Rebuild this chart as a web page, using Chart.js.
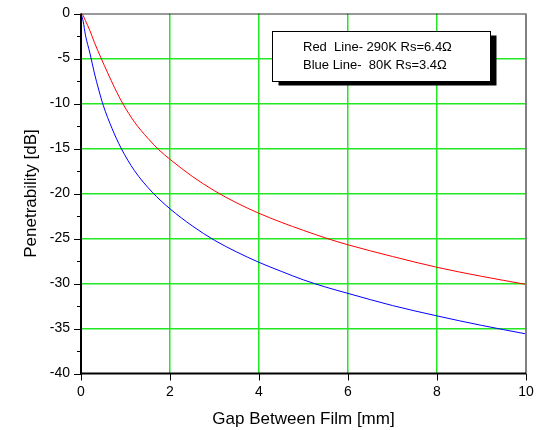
<!DOCTYPE html>
<html><head><meta charset="utf-8">
<script src="https://cdn.jsdelivr.net/npm/chart.js@4/dist/chart.umd.min.js"></script>
<style>html,body{margin:0;padding:0;background:#fff;} #wrap{width:537px;height:430px;position:relative;} canvas{display:block;}</style>
</head><body><div id="wrap"><canvas id="c" width="537" height="430" style="width:537px;height:430px"></canvas></div>
<script>
// ---- data ----
const redX  = [0, 0.025, 0.05, 0.1, 0.2, 0.3, 0.45, 0.6, 0.75, 0.95, 1.2, 1.5, 1.75, 2, 2.5, 3, 3.5, 4, 4.5, 5, 5.5, 6, 7, 8, 9, 10];
const redY  = [0, -0.07, -0.25, -0.8, -1.9, -3.2, -4.95, -6.6, -8.2, -10.1, -12.05, -13.85, -15.15, -16.2, -18.1, -19.7, -21.05, -22.2, -23.2, -24.1, -24.95, -25.7, -27.0, -28.2, -29.2, -30.1];
const blueX = [0, 0.05, 0.1, 0.2, 0.3, 0.4, 0.5, 0.7, 0.9, 1.2, 1.6, 2, 2.5, 3, 3.5, 4, 4.5, 5, 5.5, 6, 7, 8, 9, 10];
const blueY = [0, -0.9, -2.4, -4.4, -6.6, -8.5, -10.2, -12.8, -14.95, -17.45, -19.85, -21.7, -23.6, -25.2, -26.5, -27.65, -28.65, -29.6, -30.4, -31.1, -32.45, -33.6, -34.65, -35.6];
const legendLines = ['Red  Line- 290K Rs=6.4\u03A9', 'Blue Line-  80K Rs=3.4\u03A9'];
const xTitle = 'Gap Between Film [mm]';
const yTitle = 'Penetrability [dB]';

const FONT = "'Liberation Sans', Arial, sans-serif";
const toPts = (xs, ys) => xs.map((x, i) => ({x, y: ys[i]}));
const GRID = '#22e822';

const frame = {
  id: 'frame',
  afterDraw(chart) {
    const {ctx, chartArea: a, scales: {x, y}} = chart;
    ctx.save();
    // tick marks
    ctx.strokeStyle = '#000'; ctx.lineWidth = 1;
    ctx.beginPath();
    for (let v = -40; v <= 0; v += 2.5) {
      const py = Math.round(y.getPixelForValue(v)) + 0.5;
      const len = (v % 5 === 0) ? 7 : 4;
      ctx.moveTo(a.left - len, py); ctx.lineTo(a.left, py);
    }
    for (let v = 0; v <= 10; v += 2) {
      const px = Math.round(x.getPixelForValue(v)) + 0.5;
      ctx.moveTo(px, a.bottom); ctx.lineTo(px, a.bottom + 7);
    }
    ctx.stroke();
    // frame
    ctx.strokeStyle = '#333'; ctx.lineWidth = 1;
    ctx.beginPath(); ctx.moveTo(a.left, a.top + 0.5); ctx.lineTo(a.right, a.top + 0.5); ctx.stroke();
    ctx.strokeStyle = '#808080'; ctx.lineWidth = 2;
    ctx.beginPath(); ctx.moveTo(a.right, a.top); ctx.lineTo(a.right, a.bottom); ctx.stroke();
    ctx.strokeStyle = '#000'; ctx.lineWidth = 2;
    ctx.beginPath(); ctx.moveTo(a.left, a.top); ctx.lineTo(a.left, a.bottom); ctx.lineTo(a.right, a.bottom); ctx.stroke();
    // legend box with shadow
    const bx = 272.5, by = 31.5, bw = 218, bh = 50;
    ctx.fillStyle = '#000';
    ctx.fillRect(bx + 6, by + 4, bw, bh);
    ctx.fillStyle = '#fff';
    ctx.fillRect(bx, by, bw, bh);
    ctx.strokeStyle = '#000'; ctx.lineWidth = 1;
    ctx.strokeRect(bx, by, bw, bh);
    ctx.fillStyle = '#000';
    ctx.font = '13px ' + FONT;
    ctx.textAlign = 'left'; ctx.textBaseline = 'middle';
    ctx.fillText(legendLines[0], 303, 47);
    ctx.fillText(legendLines[1], 303, 65);
    ctx.restore();
  }
};

new Chart(document.getElementById('c'), {
  type: 'line',
  data: {
    datasets: [
      {label: 'red', data: toPts(redX, redY), borderColor: '#ff0000', borderWidth: 1, pointRadius: 0, cubicInterpolationMode: 'monotone', fill: false},
      {label: 'blue', data: toPts(blueX, blueY), borderColor: '#0000ff', borderWidth: 1, pointRadius: 0, cubicInterpolationMode: 'monotone', fill: false}
    ]
  },
  options: {
    responsive: false,
    animation: false,
    devicePixelRatio: 1,
    layout: {padding: {top: 13.5, right: 11, left: 0, bottom: 0}},
    plugins: {legend: {display: false}, tooltip: {enabled: false}},
    scales: {
      x: {
        type: 'linear', min: 0, max: 10,
        afterFit(s) { s.height = 56.5; s.paddingLeft = 0; s.paddingRight = 0; },
        ticks: {stepSize: 2, color: '#000', font: {family: FONT, size: 14}, padding: 10, maxRotation: 0},
        grid: {drawTicks: false, lineWidth: 1.5, color: c => (c.tick && c.tick.value > 0 && c.tick.value < 10) ? GRID : 'rgba(0,0,0,0)'},
        border: {display: false},
        title: {display: true, text: xTitle, color: '#000', font: {family: FONT, size: 17}, padding: {top: 0, bottom: 0}}
      },
      y: {
        type: 'linear', min: -40, max: 0,
        afterFit(s) { s.width = 81; s.paddingTop = 0; s.paddingBottom = 0; },
        ticks: {stepSize: 2.5, autoSkip: false, color: '#000', font: {family: FONT, size: 14}, padding: 11,
          callback: v => (Math.abs(v % 5) < 1e-9) ? String(v) : ''},
        grid: {drawTicks: false, lineWidth: 1.5, color: c => {
          const v = c.tick ? c.tick.value : 0;
          return (Math.abs(v % 5) < 1e-9 && v < 0 && v > -40) ? GRID : 'rgba(0,0,0,0)';
        }},
        border: {display: false},
        title: {display: true, text: yTitle, color: '#000', font: {family: FONT, size: 17}, padding: {top: 21, bottom: 0}}
      }
    }
  },
  plugins: [frame]
});
</script></body></html>
